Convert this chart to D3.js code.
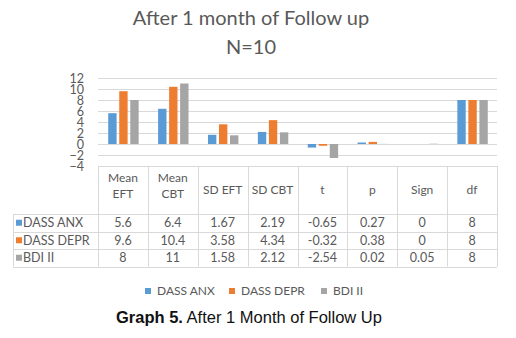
<!DOCTYPE html>
<html><head><meta charset="utf-8">
<script src="https://cdn.jsdelivr.net/npm/d3@7"></script>
<style>body{margin:0;background:#fff}svg{display:block}</style>
</head><body>
<script>
const categories = ["Mean EFT","Mean CBT","SD EFT","SD CBT","t","p","Sign","df"];
const headerLines = [["Mean","EFT"],["Mean","CBT"],["SD EFT"],["SD CBT"],["t"],["p"],["Sign"],["df"]];
const seriesNames = ["DASS ANX","DASS DEPR","BDI II"];
const dassAnx  = [5.6, 6.4, 1.67, 2.19, -0.65, 0.27, 0, 8];
const dassDepr = [9.6, 10.4, 3.58, 4.34, -0.32, 0.38, 0, 8];
const bdiII    = [8, 11, 1.58, 2.12, -2.54, 0.02, 0.05, 8];
const yTicks = [12,10,8,6,4,2,0,-2,-4];
const colors = ["#5b9bd5","#ed7d31","#a5a5a5"];
const series = [dassAnx, dassDepr, bdiII];

const W=516,H=338;
const svg=d3.select("body").append("svg").attr("width",W).attr("height",H);
const font="Lato, 'Open Sans', sans-serif";
const grey="#595959";

// title
svg.append("text").attr("x",251).attr("y",25).attr("text-anchor","middle")
  .attr("font-family",font).attr("font-size",20).attr("fill",grey).text("After 1 month of Follow up");
svg.append("text").attr("x",251).attr("y",54).attr("text-anchor","middle")
  .attr("font-family",font).attr("font-size",20).attr("fill",grey).text("N=10");

const x0=d3.scaleBand().domain(categories).range([98,497]);
const y=d3.scaleLinear().domain([-4,12]).range([166,78]);
const bw=x0.bandwidth();
const x1=d3.scaleBand().domain(seriesNames).range([bw*0.205,bw*0.815]).paddingInner(0.24);

// gridlines
svg.append("g").selectAll("line").data(yTicks.filter(d=>d>-4)).join("line")
  .attr("x1",98).attr("x2",497).attr("y1",d=>Math.round(y(d))+0.5).attr("y2",d=>Math.round(y(d))+0.5)
  .attr("stroke","#d9d9d9").attr("stroke-width",1);

// y axis labels
const ya=svg.append("g").attr("transform","translate(84,0)")
  .call(d3.axisLeft(y).tickValues(yTicks).tickSize(0).tickPadding(0).tickFormat(d3.format("d")));
ya.select(".domain").remove();
ya.selectAll("text").attr("font-family",font).attr("font-size",12.5).attr("fill",grey);

// bars
seriesNames.forEach((s,si)=>{
  svg.append("g").selectAll("rect").data(series[si]).join("rect")
    .attr("x",(d,i)=>x0(categories[i])+x1(s))
    .attr("width",x1.bandwidth())
    .attr("y",d=>Math.min(y(d),y(0)))
    .attr("height",d=>Math.abs(y(d)-y(0)))
    .attr("fill",colors[si]);
});

// table
const tTop=166, hBot=214, rowH=17.5;
const tb=svg.append("g");
const lc="#d9d9d9";
const rowsBottom=hBot+3*rowH;
tb.append("line").attr("x1",98).attr("x2",497).attr("y1",tTop+0.5).attr("y2",tTop+0.5).attr("stroke",lc);
[0,1,2,3].forEach(r=>{
  const yy=Math.round(hBot+r*rowH)+0.5;
  tb.append("line").attr("x1",13).attr("x2",497).attr("y1",yy).attr("y2",yy).attr("stroke",lc);
});
const xs=categories.map(c=>x0(c)).concat([497]);
xs.forEach(xx=>{
  tb.append("line").attr("x1",Math.round(xx)+0.5).attr("x2",Math.round(xx)+0.5)
    .attr("y1",tTop).attr("y2",rowsBottom).attr("stroke",lc);
});
tb.append("line").attr("x1",13.5).attr("x2",13.5).attr("y1",hBot).attr("y2",rowsBottom).attr("stroke",lc);

categories.forEach((c,i)=>{
  const cx=x0(c)+bw/2;
  const lines=headerLines[i];
  lines.forEach((l,li)=>{
    const yy = lines.length===2 ? 182+li*16 : 194;
    tb.append("text").attr("x",cx).attr("y",yy).attr("text-anchor","middle")
      .attr("font-family",font).attr("font-size",12).attr("fill",grey).text(l);
  });
});
seriesNames.forEach((s,si)=>{
  const cy=hBot+si*rowH+rowH/2;
  tb.append("rect").attr("x",16).attr("y",cy-3).attr("width",6).attr("height",6).attr("fill",colors[si]);
  tb.append("text").attr("x",23).attr("y",cy+4.5).attr("font-family",font).attr("font-size",12.5)
    .attr("fill",grey).text(s);
  series[si].forEach((v,i)=>{
    tb.append("text").attr("x",x0(categories[i])+bw/2).attr("y",cy+4.5).attr("text-anchor","middle")
      .attr("font-family",font).attr("font-size",12.5).attr("fill",grey).text(String(v));
  });
});

// legend
const legX=[145,229,321];
seriesNames.forEach((s,si)=>{
  svg.append("rect").attr("x",legX[si]).attr("y",288).attr("width",6).attr("height",6).attr("fill",colors[si]);
  svg.append("text").attr("x",legX[si]+12).attr("y",295).attr("font-family",font).attr("font-size",12)
    .attr("fill",grey).text(s);
});

// caption
const cap=svg.append("text").attr("x",116).attr("y",323).attr("font-family","'Liberation Sans', Arial, sans-serif")
  .attr("font-size",16.5).attr("fill","#111");
cap.append("tspan").attr("font-weight","bold").text("Graph 5.");
cap.append("tspan").text(" After 1 Month of Follow Up");
</script>
</body></html>
